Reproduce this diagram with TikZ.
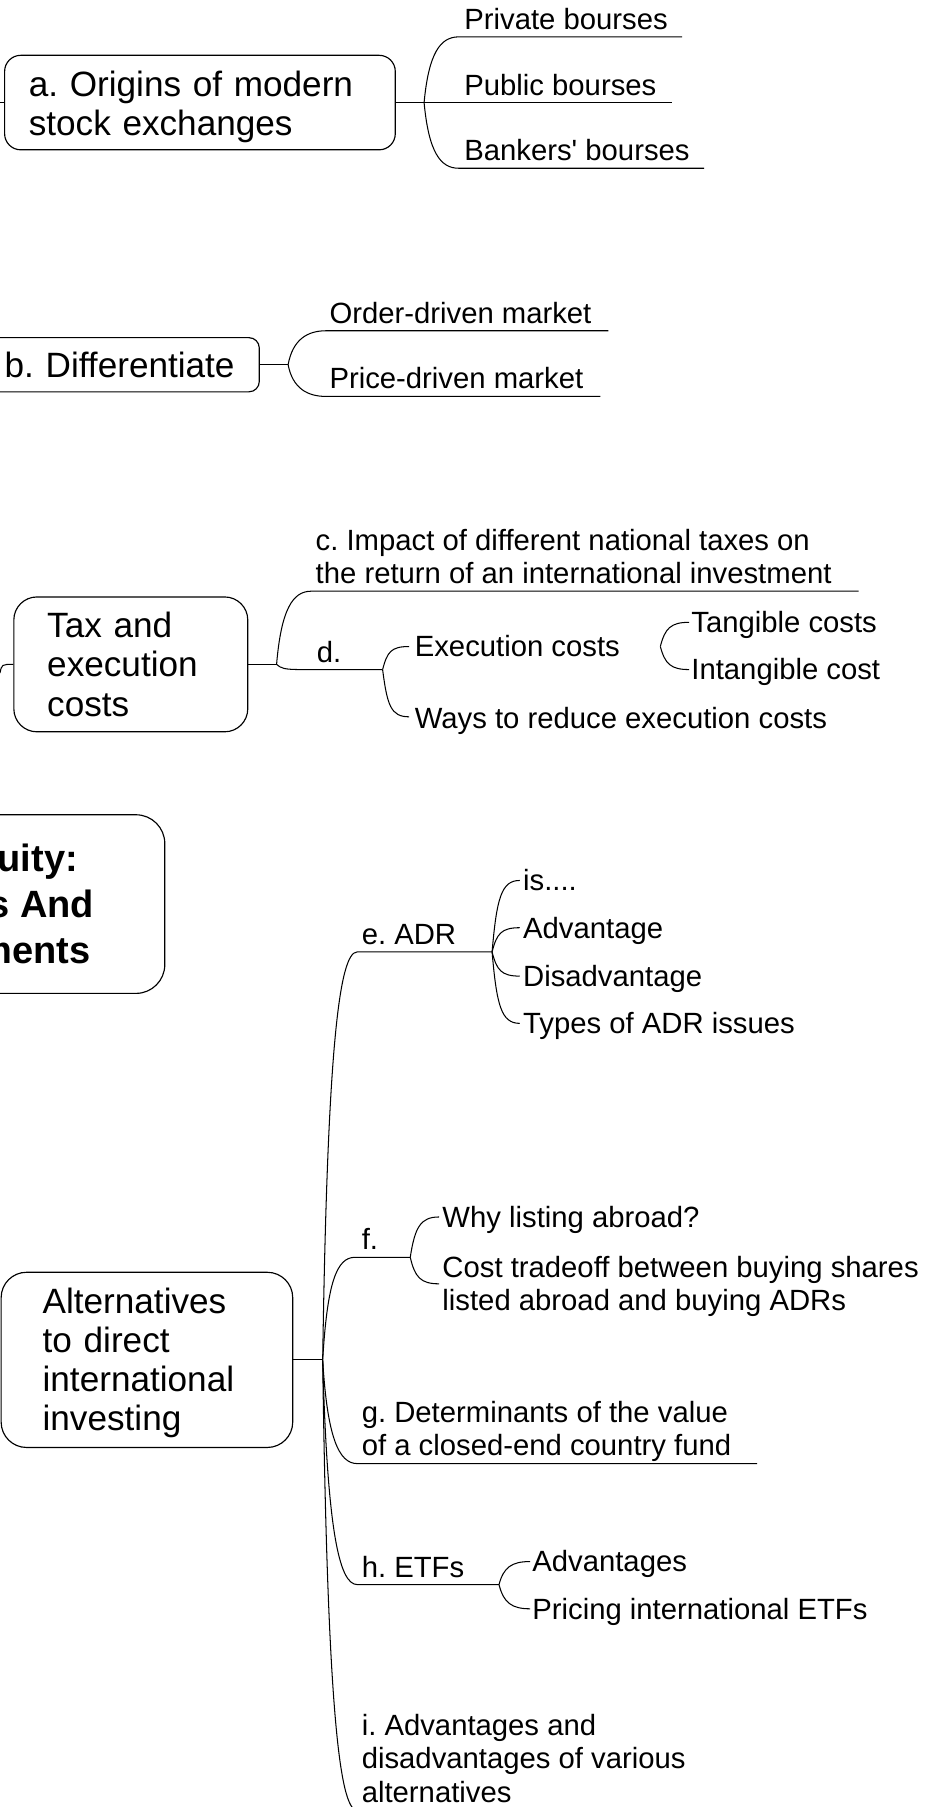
\documentclass[tikz,border=0pt]{standalone}
\usepackage{fontspec}
\setmainfont{Liberation Sans}
\usetikzlibrary{calc}
\frenchspacing
\hyphenpenalty=10000
\exhyphenpenalty=10000
\begin{document}
\begin{tikzpicture}[x=1pt, y=-1pt, line width=0.9pt,
  topic/.style={draw, line width=1pt, align=left, inner ysep=0pt,
    font=\fontsize{30.5}{34}\selectfont},
  leaf/.style={anchor=base west, inner sep=0pt, align=left,
    font=\fontsize{25.4}{29}\selectfont},
  hubtext/.style={anchor=base east, inner sep=0pt,
    font=\fontsize{33}{39}\selectfont\bfseries},
  branch/.style={to path={.. controls
    ($(\tikztostart)!0.75!(\tikztostart|-\tikztotarget)+(4,0)$) and
    ($(\tikztotarget)+(-16,0)$) .. (\tikztotarget)}},
]
\useasboundingbox (0,0) rectangle (802,1568);
\clip (0,0) rectangle (802,1568);

% ---------- main topics ----------
\node[topic, rounded corners=25pt, minimum width=383pt, minimum height=155pt]
  (hub) at (-48.5,784.5) {};
\node[hubtext] (hub1) at (68,756) {uity:};
\node[hubtext] (hub2) at (82,796) {s And};
\node[hubtext] (hub3) at (79,836) {ments};

\node[topic, rounded corners=14pt, text width=297pt, inner xsep=21pt,
  minimum height=82pt] (orig) at (173.5,89)
  {\rule{0pt}{30pt}a. Origins of modern\\stock exchanges};
\node[topic, rounded corners=9pt, text width=205pt, inner xsep=16pt,
  minimum height=47pt] (diff) at (106.5,316.5) {b. Differentiate};
\node[topic, rounded corners=20pt, text width=145pt, inner xsep=29pt,
  minimum height=117pt] (tax) at (113.5,576.5) {Tax and\\execution\\costs};
\node[topic, rounded corners=22pt, text width=181pt, inner xsep=36pt,
  minimum height=152pt] (alt) at (127.5,1180)
  {\rule{0pt}{27pt}Alternatives\\to direct\\international\\investing};

% incoming connectors from the left
\coordinate (inA) at (0,89);
\coordinate (inT) at (0,584);
\draw (inA) -- (orig.west);
\draw (inT) .. controls ($(tax.west)+(-10,0)$) .. (tax.west);

% ---------- a. origins ----------
\coordinate (jA) at (368,89);
\coordinate (pvL) at (398,32);  \coordinate (pvR) at (592,32);
\coordinate (puR) at (583,89);
\coordinate (bkL) at (398,146); \coordinate (bkR) at (611,146);
\node[leaf] (pv) at (402.5,25.5) {Private bourses};
\node[leaf] (pu) at (402.5,82.5) {Public bourses};
\node[leaf] (bk) at (402.5,139.5) {Bankers\textquotesingle{} bourses};
\draw (orig.east) -- (jA);
\draw (jA) to[branch] (pvL) -- (pvR);
\draw (jA) -- (puR);
\draw (jA) to[branch] (bkL) -- (bkR);

% ---------- b. differentiate ----------
\coordinate (jB) at (250,316.5);
\coordinate (odL) at (283,287); \coordinate (odR) at (528,287);
\coordinate (pdL) at (283,344); \coordinate (pdR) at (521,344);
\node[leaf] (od) at (285.5,280.5) {Order-driven market};
\node[leaf] (pd) at (285.5,337.5) {Price-driven market};
\draw (diff.east) -- (jB);
\draw (jB) to[branch] (odL) -- (odR);
\draw (jB) to[branch] (pdL) -- (pdR);

% ---------- tax and execution costs ----------
% (multi-line leaves are placed by the baseline of their last line)
\coordinate (jT) at (240,576.5);
\coordinate (cL) at (270,513); \coordinate (cR) at (745,513);
\coordinate (dL) at (262,581); \coordinate (jD) at (332,581);
\coordinate (exL) at (355,561); \coordinate (wyL) at (355,622);
\coordinate (jEx) at (573,561);
\coordinate (tgL) at (598,540); \coordinate (itL) at (598,581);
\node[leaf] (c) at (273.5,506.5) {c. Impact of different national taxes on\\the return of an international investment};
\node[leaf] (d) at (274.5,575) {d.};
\node[leaf] (ex) at (359.5,570) {Execution costs};
\node[leaf] (wy) at (359.5,632) {Ways to reduce execution costs};
\node[leaf] (tg) at (599.5,549) {Tangible costs};
\node[leaf] (it) at (599.5,590) {Intangible cost};
\draw (tax.east) -- (jT);
\draw (jT) to[branch] (cL) -- (cR);
\draw (jT) to[branch] (dL) -- (jD);
\draw (jD) to[branch] (exL);
\draw (jD) to[branch] (wyL);
\draw (jEx) to[branch] (tgL);
\draw (jEx) to[branch] (itL);

% ---------- alternatives ----------
\coordinate (jAlt) at (280,1180);
\coordinate (eL) at (310,826);  \coordinate (jE) at (427,826);
\coordinate (isL) at (451,764); \coordinate (adL) at (451,805);
\coordinate (dsL) at (451,847); \coordinate (tyL) at (451,888);
\coordinate (fL) at (308,1091); \coordinate (jF) at (356,1091);
\coordinate (whL) at (381,1056); \coordinate (ctL) at (381,1114);
\coordinate (gL) at (310,1270); \coordinate (gR) at (657,1270);
\coordinate (hL) at (310,1375); \coordinate (jH) at (433,1375);
\coordinate (avL) at (460,1355); \coordinate (prL) at (460,1396);
\coordinate (iL) at (310,1571); \coordinate (iR) at (560,1571);

\node[leaf] (e) at (313.5,819.5) {e. ADR};
\node[leaf] (is) at (453.5,773) {is....};
\node[leaf] (ad) at (453.5,814) {Advantage};
\node[leaf] (ds) at (453.5,856) {Disadvantage};
\node[leaf] (ty) at (453.5,897) {Types of ADR issues};
\node[leaf] (f) at (313.5,1084) {f.};
\node[leaf] (wh) at (383.5,1065) {Why listing abroad?};
\node[leaf] (ct) at (383.5,1137.5) {Cost tradeoff between buying shares\\listed abroad and buying ADRs};
\node[leaf] (g) at (313.5,1263) {g. Determinants of the value\\of a closed-end country fund};
\node[leaf] (h) at (313.5,1369) {h. ETFs};
\node[leaf] (av) at (461.5,1364) {Advantages};
\node[leaf] (pr) at (461.5,1405) {Pricing international ETFs};
\node[leaf] (i) at (313.5,1564) {i. Advantages and\\disadvantages of various\\alternatives};

\draw (alt.east) -- (jAlt);
\draw (jAlt) to[branch] (eL) -- (jE);
\draw (jE) to[branch] (isL);
\draw (jE) to[branch] (adL);
\draw (jE) to[branch] (dsL);
\draw (jE) to[branch] (tyL);
\draw (jAlt) to[branch] (fL) -- (jF);
\draw (jF) to[branch] (whL);
\draw (jF) to[branch] (ctL);
\draw (jAlt) to[branch] (gL) -- (gR);
\draw (jAlt) to[branch] (hL) -- (jH);
\draw (jH) to[branch] (avL);
\draw (jH) to[branch] (prL);
\draw (jAlt) to[branch] (iL) -- (iR);
\end{tikzpicture}
\end{document}
